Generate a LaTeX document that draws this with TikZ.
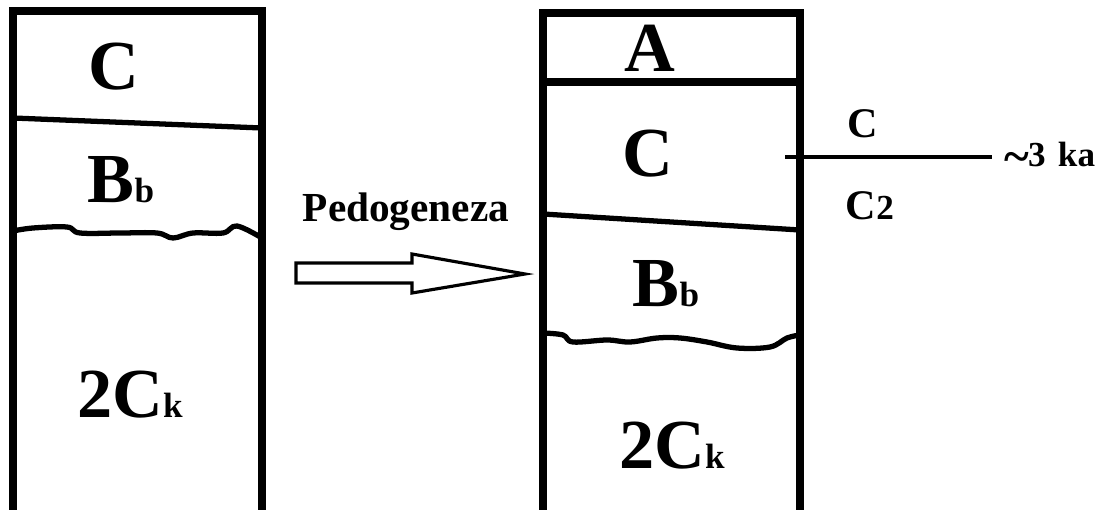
\documentclass[tikz,border=0pt]{standalone}
\usepackage{fontspec}
\setmainfont{Liberation Serif}
\newcommand{\hsub}[1]{{\fontsize{20}{20}\selectfont #1}}

\begin{document}
\begin{tikzpicture}[
  x=0.02cm, y=-0.02cm,
  horizon/.style={font=\fontsize{40}{40}\selectfont\bfseries, inner sep=0pt, anchor=base},
  note/.style={font=\fontsize{24}{24}\selectfont\bfseries, inner sep=0pt, anchor=base},
  wall/.style={line width=4pt, line join=miter},
  border/.style={line width=3pt, line cap=round},
  wavy/.style={line width=3pt, line cap=round, line join=round},
  blockarrow/.style={draw, line width=1.8pt, fill=white, line join=miter},
  tick/.style={line width=2pt}
]
\useasboundingbox (0,0) rectangle (1117,510);
\fill[white] (0,0) rectangle (1117,510);

% profile before
\draw[wall] (13,510) -- (13,11) -- (262,11) -- (262,510);
\draw[border] (13,118) -- (262,128);
\draw[wavy] plot[smooth, tension=0.6] coordinates {(13,231) (33,228) (67,227) (80,233)
  (120,233) (157,233) (173,238) (193,233) (223,233) (237,226) (262,238)};
\node[horizon] (lC) at (114,90) {C};
\node[horizon] (lB) at (121,203) {B\hsub{b}};
\node[horizon] (lCk) at (130,418) {2C\hsub{k}};

% arrow
\node[note, font=\fontsize{23.5}{23.5}\selectfont\bfseries] (pedo) at (406,222) {Pedogeneza};
\draw[blockarrow] (296,263) -- (412,263) -- (412,254) -- (525,274) -- (412,293)
  -- (412,283) -- (296,283) -- cycle;

% profile after
\draw[wall] (543,510) -- (543,13) -- (800,13) -- (800,510);
\draw[wall] (543,82) -- (800,82);
\draw[border] (543,214) -- (800,230);
\draw[wavy] plot[smooth, tension=0.6] coordinates {(543,333) (563,335) (573,342) (607,340)
  (630,342) (657,338) (680,338) (707,342) (737,348) (770,347) (787,338) (800,335)};
\node[horizon] (rA) at (650,72) {A};
\node[horizon] (rC) at (648,177) {C};
\node[horizon] (rB) at (666,307) {B\hsub{b}};
\node[horizon] (rCk) at (672,468) {2C\hsub{k}};

% age mark
\coordinate (tickL) at (785,157);
\coordinate (tickR) at (992,157);
\draw[tick] (tickL) -- (tickR);
\node[note] (upC) at (863,138) {C};
\node[note] (lowC) at (870,220) {C{\fontsize{20}{20}\selectfont 2}};
\node[note, anchor=base west, font=\fontsize{20}{20}\selectfont\bfseries] (age) at (1004,167)
  {\raisebox{-3pt}{\fontsize{27}{20}\selectfont\textasciitilde}\kern-0.5pt 3\hspace{2pt} ka};
\end{tikzpicture}
\end{document}
